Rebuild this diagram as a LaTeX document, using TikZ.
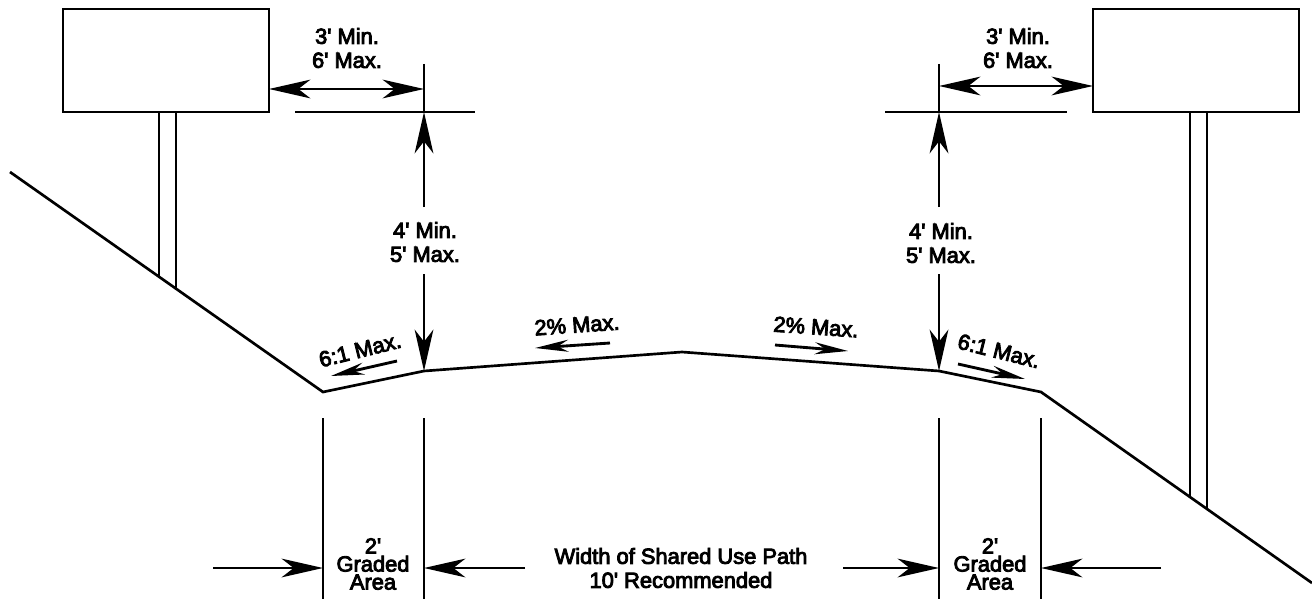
\documentclass[tikz,border=0pt]{standalone}
\usepackage{fontspec}
\newfontfamily\lblfont[FakeBold=4]{Liberation Sans}
\usetikzlibrary{arrows.meta}
\tikzset{
  x=0.75pt,y=-0.75pt,
  ln/.style={line width=2.14pt,line cap=butt,line join=miter,black},
  gnd/.style={line width=2pt,black},
  bigarrow/.style={ln,-{Stealth[length=31pt,width=14pt,inset=9pt]}},
  smallarrow/.style={ln,-{Stealth[length=25pt,width=9pt,inset=8pt]}},
  dualarrow/.style={ln,{Stealth[length=31pt,width=14pt,inset=9pt]}-{Stealth[length=31pt,width=14pt,inset=9pt]}},
  lbl/.style={align=center,font=\lblfont\fontsize{16.4pt}{18pt}\selectfont,inner sep=0pt,black},
  tight/.style={align=center,font=\lblfont\fontsize{16.4pt}{13.5pt}\selectfont,inner sep=0pt,black},
  sign/.style={draw,line width=2.14pt,minimum width=154.5pt,minimum height=77.25pt,inner sep=0pt,outer sep=0pt,anchor=north west}
}
\begin{document}
\begin{tikzpicture}
\useasboundingbox (0,0) rectangle (1312,599);
% coordinates
\coordinate (g0) at (10,172);
\coordinate (g1) at (323,392);
\coordinate (g2) at (424,371);
\coordinate (g3) at (682,352);
\coordinate (g4) at (939,371);
\coordinate (g5) at (1041,392);
\coordinate (g6) at (1312,583);
% ground
\draw[gnd] (g0) -- (g1) -- (g2) -- (g3) -- (g4) -- (g5) -- (g6);
% signs
\node[sign] (signL) at (63,9) {};
\node[sign] (signR) at (1093,9) {};
\coordinate (pLa) at (159,277); \coordinate (pLb) at (176,289);
\coordinate (pRa) at (1190,497); \coordinate (pRb) at (1207,510);
\draw[ln] (pLa) -- (pLa |- signL.south);
\draw[ln] (pLb) -- (pLb |- signL.south);
\draw[ln] (pRa) -- (pRa |- signR.south);
\draw[ln] (pRb) -- (pRb |- signR.south);
% left top dims
\coordinate (vLt) at (424,64); \coordinate (hLa) at (295,112); \coordinate (hLb) at (475,112);
\coordinate (vLm) at (424,112);
\draw[ln] (vLt) -- (vLm);
\draw[ln] (hLa) -- (hLb);
\coordinate (aLe) at (424,89);
\draw[dualarrow] (aLe -| signL.east) -- (aLe);
\node[lbl] (t3L) at (347,48) {3' Min.\\6' Max.};
\node[lbl] (t4L) at (425,242) {4' Min.\\5' Max.};
\coordinate (uLs) at (424,207); \coordinate (dLs) at (424,274);
\draw[bigarrow] (uLs) -- (vLm);
\draw[bigarrow] (dLs) -- (g2);
% right top dims
\coordinate (vRt) at (939,64); \coordinate (hRa) at (885,112); \coordinate (hRb) at (1067,112);
\coordinate (vRm) at (939,112);
\draw[ln] (vRt) -- (vRm);
\draw[ln] (hRa) -- (hRb);
\coordinate (aRe) at (939,86);
\draw[dualarrow] (aRe) -- (aRe -| signR.west);
\node[lbl] (t3R) at (1018,48) {3' Min.\\6' Max.};
\node[lbl] (t4R) at (941,243) {4' Min.\\5' Max.};
\coordinate (uRs) at (939,207); \coordinate (dRs) at (939,274);
\draw[bigarrow] (uRs) -- (vRm);
\draw[bigarrow] (dRs) -- (g4);
% slope arrows
\coordinate (a1s) at (397,361); \coordinate (a1e) at (331,376);
\draw[smallarrow] (a1s) -- (a1e);
\node[lbl,rotate=14] (s1) at (360,350) {6:1 Max.};
\coordinate (a2s) at (610,343); \coordinate (a2e) at (535,348);
\draw[smallarrow] (a2s) -- (a2e);
\node[lbl,rotate=4] (s2) at (577,325) {2\% Max.};
\coordinate (a3s) at (775,345); \coordinate (a3e) at (848,351);
\draw[smallarrow] (a3s) -- (a3e);
\node[lbl,rotate=-4] (s3) at (816,327) {2\% Max.};
\coordinate (a4s) at (958,364); \coordinate (a4e) at (1025,379);
\draw[smallarrow] (a4s) -- (a4e);
\node[lbl,rotate=-14] (s4) at (999,351) {6:1 Max.};
% bottom dims
\coordinate (bAt) at (323,418); \coordinate (bAb) at (323,599);
\coordinate (bBt) at (424,418); \coordinate (bBb) at (424,599);
\coordinate (bCt) at (939,418); \coordinate (bCb) at (939,599);
\coordinate (bDt) at (1041,418); \coordinate (bDb) at (1041,599);
\draw[ln] (bAt) -- (bAb);
\draw[ln] (bBt) -- (bBb);
\draw[ln] (bCt) -- (bCb);
\draw[ln] (bDt) -- (bDb);
\coordinate (e1) at (213,568); \coordinate (e2) at (525,568);
\coordinate (e3) at (843,568); \coordinate (e4) at (1161,568);
\draw[bigarrow] (e1) -- (e1 -| bAt);
\draw[bigarrow] (e2) -- (e2 -| bBt);
\draw[bigarrow] (e3) -- (e3 -| bCt);
\draw[bigarrow] (e4) -- (e4 -| bDt);
\node[tight] (g1t) at (373,564) {2'\\Graded\\Area};
\node[tight] (g2t) at (990,564) {2'\\Graded\\Area};
\node[lbl] (wt) at (681,568) {Width of Shared Use Path\\10' Recommended};
\end{tikzpicture}
\end{document}
